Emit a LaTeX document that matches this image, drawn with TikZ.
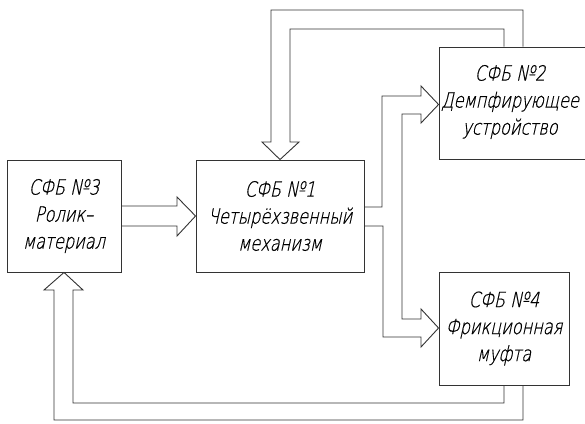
\documentclass[tikz,border=0pt]{standalone}
\usepackage{fontspec}
\newfontfamily\gost{DejaVu Sans ExtraLight}[FakeSlant=0.22,FakeStretch=0.77,FakeBold=0.6]
\begin{document}
\begin{tikzpicture}[x=1pt,y=-1pt,
  ln/.style={draw=black!80,line width=0.9pt,line join=miter},
  txt/.style={inner sep=0pt,align=center,text=black,font=\gost\fontsize{21}{27}\selectfont},
  blk/.style={ln,rectangle,txt}]
\clip (0,0) rectangle (585,423);
\fill[white] (0,0) rectangle (585,423);
% blocks
\node[blk,minimum width=114pt,minimum height=112pt] (b3) at (64,216) {СФБ №3\\Ролик–\\материал};
\node[blk,minimum width=168pt,minimum height=112pt] (b1) at (280,216) {СФБ №1\\Четырёхзвенный\\механизм};
\node[blk,minimum width=148pt,minimum height=112pt] (b2) at (513,103) {};
\node[txt] (t2) at (510,102) {СФБ №2\\Демпфирующее\\устройство};
\node[blk,minimum width=130pt,minimum height=113pt] (b4) at (504,328.5) {СФБ №4\\Фрикционная\\муфта};
% 3 -> 1
\draw[ln] (b3.east |- 0,206) -- (177,206) -- (177,197) -- (b1.west |- 0,216) -- (177,236) -- (177,226) -- (b3.east |- 0,226);
% 2 -> 1 (top feedback)
\draw[ln] (523,0 |- b2.north) -- (523,10) -- (271,10) -- (271,142) -- (262,142) -- (b1.north) -- (299,142) -- (290,142) -- (290,29) -- (504,29) -- (504,0 |- b2.north);
% 1 -> 2 and 1 -> 4
\draw[ln] (b1.east |- 0,207) -- (382,207) -- (382,96) -- (421,96) -- (421,86) -- (b2.west |- 0,104.5) -- (421,123) -- (421,114) -- (402,114) -- (402,319) -- (421,319) -- (421,309) -- (b4.west |- 0,328) -- (421,347) -- (421,337) -- (383,337) -- (383,226) -- (b1.east |- 0,226);
% 4 -> 3 (bottom feedback)
\draw[ln] (523,0 |- b4.south) -- (523,420) -- (54,420) -- (54,290) -- (44,290) -- (b3.south) -- (83,290) -- (73,290) -- (73,403) -- (504,403) -- (504,0 |- b4.south);
\end{tikzpicture}
\end{document}
